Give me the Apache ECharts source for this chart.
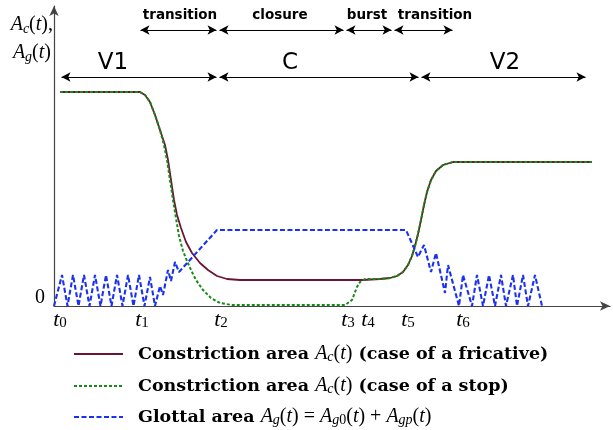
<!DOCTYPE html>
<html><head><meta charset="utf-8">
<script src="https://cdn.jsdelivr.net/npm/echarts@6/dist/echarts.min.js"></script>
<style>html,body{margin:0;padding:0;background:#fff}#c{width:613px;height:430px}</style>
</head><body><div id="c"></div>
<script>
// Constriction area, fricative
const fricX = [6,86,91,96,101,106,111,114,117,120,123,127,132,138,146,154,163,173,186,246,309,326,336,343,349,354,358,361,364,367,370,373,377,382,389,399,538];
const fricY = [214,214,211,204,191,176,161,146,126,106,91,78,64,53,43,36,30,27,26,26,26,27,28,30,34,41,50,60,72,86,101,114,126,135,141,144,144];
// Constriction area, stop
const stopX = [6,86,91,96,101,106,110,113,116,119,122,125,129,133,137,142,149,157,166,178,291,298,303,306,311,326,336,343,349,354,358,361,364,367,370,373,377,382,389,399,538];
const stopY = [214,214,211,204,191,176,161,146,126,106,88,70,55,45,36,26,16,8,3,1,1,6,19,24,27,27,28,30,34,41,50,60,72,86,101,114,126,135,141,144,144];
// Glottal area
const glotX = [0,8,13.5,19,24.5,30,35.5,41,46.5,52,57.5,63,68.5,74,79.5,85,90.5,96,101,106,109,114,117,121,125,163,352,364,370,377,382,391,394,405,409,418,423,429,435,441,447,452,459,463,469,474,481,488];
const glotY = [0,31,0,31,0,31,0,31,0,31,0,31,0,31,0,31,0,29,0,20,11,36,25,44,34,76,76,49,61,34,53,13,41,0,31,0,31,0,31,0,31,0,31,0,31,0,31,0];
// time ticks
const tickVals = [6,88,167,294,314,354,409];
const tickNames = ['0','1','2','3','4','5','6'];
// phase annotations
const topBounds = [85,164,291,339,400];
const topLabels = ['transition','closure','burst','transition'];
const topLabelX = [126,226,313,381];
const lowBounds = [6,164,366,533];
const lowLabels = ['V1','C','V2'];
const lowLabelX = [59,236,451];
const topY = 276, topTextY = 291, lowY = 229, lowTextY = 243;

const mathFont = '"Liberation Serif", "DejaVu Serif", serif';
function seg(arr, y){
  const out = [];
  for (let i = 0; i < arr.length - 1; i++) {
    out.push([{coord:[arr[i] + 1.5, y]}, {coord:[arr[i+1] - 1.5, y]}]);
  }
  return out;
}
const marks = [];
topLabels.forEach((t,i)=>marks.push({coord:[topLabelX[i], topTextY], value:t, label:{fontSize:13.5, fontWeight:'bold'}}));
lowLabels.forEach((t,i)=>marks.push({coord:[lowLabelX[i], lowTextY], value:t, label:{fontSize:23, fontWeight:'normal'}}));

const richMath = {
  b: {fontFamily:'"DejaVu Serif", serif', fontWeight:'bold', fontSize:17.5, lineHeight:20, color:'#000'},
  b0: {fontFamily:'"DejaVu Serif", serif', fontWeight:'bold', fontSize:17.5, lineHeight:20, color:'#000', padding:[0,0,0,10]},
  m: {fontFamily:mathFont, fontStyle:'italic', fontSize:20, lineHeight:20, color:'#000'},
  r: {fontFamily:mathFont, fontSize:20, lineHeight:20, color:'#000'},
  s: {fontFamily:mathFont, fontStyle:'italic', fontSize:14, lineHeight:9, verticalAlign:'bottom', color:'#000'},
  sr: {fontFamily:mathFont, fontSize:14, lineHeight:9, verticalAlign:'bottom', color:'#000'}
};
const legendNames = ['fric','stop','glot'];
const legendTops = [339, 371, 402];
const legendText = {
  fric: '{b0|Constriction area }{m|A}{s|c}{r|(}{m|t}{r|)}{b| (case of a fricative)}',
  stop: '{b0|Constriction area }{m|A}{s|c}{r|(}{m|t}{r|)}{b| (case of a stop)}',
  glot: '{b0|Glottal area }{m|A}{s|g}{r|(}{m|t}{r|) = }{m|A}{s|g}{sr|0}{r|(}{m|t}{r|) + }{m|A}{s|gp}{r|(}{m|t}{r|)}'
};
const zip = (xs, ys) => xs.map((x,i)=>[x, ys[i]]);

const chart = echarts.init(document.getElementById('c'));
chart.setOption({
  animation:false,
  grid:{left:54, right:3, top:6, bottom:124},
  xAxis:{type:'value', min:0, max:556,
    axisLine:{show:true, lineStyle:{color:'#444', width:1.2}, symbol:['none','arrow'], symbolSize:[7,10]},
    axisTick:{show:false}, splitLine:{show:false},
    axisLabel:{customValues:tickVals, margin:3, formatter:(v)=>{const i=tickVals.indexOf(v); return i<0?'':'{t|t}{n|'+tickNames[i]+'}';},
      rich:{t:{fontFamily:mathFont, fontStyle:'italic', fontSize:22, lineHeight:22, color:'#000'},
            n:{fontFamily:mathFont, fontSize:15, lineHeight:10, verticalAlign:'bottom', color:'#000'}}}
  },
  yAxis:{type:'value', min:0, max:300, interval:300,
    axisLine:{show:true, lineStyle:{color:'#444', width:1.2}, symbol:['none','arrow'], symbolSize:[7,10]},
    axisTick:{show:false}, splitLine:{show:false},
    axisLabel:{margin:9, fontFamily:mathFont, fontSize:20, color:'#000', verticalAlign:'bottom', lineHeight:16,
      formatter:(v)=> v===0 ? '0' : ''}
  },
  legend: legendNames.map((n,i)=>({data:[n], orient:'vertical', left:68, top:legendTops[i], itemWidth:49, itemHeight:14,
    itemStyle:{opacity:0}, formatter:(nm)=>legendText[nm], textStyle:{rich:richMath}, selectedMode:false})),
  graphic:[
    {type:'text', x:53, y:25, style:{text:'{m|A}{s|c}{r|(}{m|t}{r|),}', align:'right', verticalAlign:'middle',
      rich:{m:{fontFamily:mathFont, fontStyle:'italic', fontSize:20, lineHeight:22}, r:{fontFamily:mathFont, fontSize:20, lineHeight:22}, s:{fontFamily:mathFont, fontStyle:'italic', fontSize:14, lineHeight:10, verticalAlign:'bottom'}}}},
    {type:'text', x:51, y:53, style:{text:'{m|A}{s|g}{r|(}{m|t}{r|)}', align:'right', verticalAlign:'middle',
      rich:{m:{fontFamily:mathFont, fontStyle:'italic', fontSize:20, lineHeight:22}, r:{fontFamily:mathFont, fontSize:20, lineHeight:22}, s:{fontFamily:mathFont, fontStyle:'italic', fontSize:14, lineHeight:10, verticalAlign:'bottom'}}}}
  ],
  series:[
    {name:'fric', type:'line', data:zip(fricX,fricY), symbol:'none', smooth:false,
      lineStyle:{color:'#6e1433', width:1.8}, itemStyle:{color:'#6e1433'},
      markLine:{silent:true, symbol:['arrow','arrow'], symbolSize:[7,9], label:{show:false},
        lineStyle:{color:'#000', width:1.1, type:'solid'},
        data: seg(topBounds, topY).concat(seg(lowBounds, lowY))},
      markPoint:{silent:true, symbol:'circle', symbolSize:1, itemStyle:{color:'rgba(0,0,0,0)'},
        label:{show:true, position:'inside', color:'#000', fontFamily:'"DejaVu Sans", sans-serif', formatter:(p)=>p.value},
        data: marks}
    },
    {name:'stop', type:'line', data:zip(stopX,stopY), symbol:'none',
      lineStyle:{color:'#168a16', width:2, type:[3,2]}, itemStyle:{color:'#168a16'}},
    {name:'glot', type:'line', data:zip(glotX,glotY), symbol:'none',
      lineStyle:{color:'#1a32f0', width:2.1, type:[5,2.5]}, itemStyle:{color:'#1a32f0'}}
  ]
});
</script>
</body></html>
